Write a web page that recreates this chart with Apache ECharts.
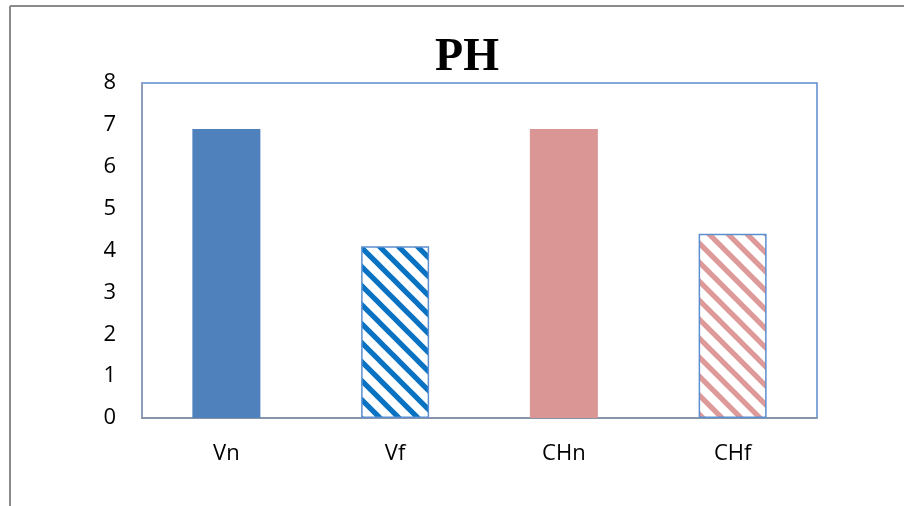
<!DOCTYPE html>
<html>
<head>
<meta charset="utf-8">
<script src="https://cdn.jsdelivr.net/npm/echarts@6/dist/echarts.min.js"></script>
<style>
  html, body { margin: 0; padding: 0; background: #ffffff; }
  #chart { width: 904px; height: 506px; }
</style>
</head>
<body>
<div id="chart"></div>
<script>
// pH readings per sample
const categories = ['Vn', 'Vf', 'CHn', 'CHf'];
const phValues = [6.9, 4.1, 6.9, 4.4];
const yTicks = { min: 0, max: 8, interval: 1 };

// Diagonal stripe tile ("\" direction) used for hatched bars
function stripeTile(stripeColor) {
  const s = 19;
  const c = document.createElement('canvas');
  c.width = s; c.height = s;
  const ctx = c.getContext('2d');
  ctx.fillStyle = '#ffffff';
  ctx.fillRect(0, 0, s, s);
  ctx.strokeStyle = stripeColor;
  ctx.lineWidth = 5.2;
  [-s, 0, s].forEach(function (off) {
    ctx.beginPath();
    ctx.moveTo(-2, off - 2);
    ctx.lineTo(s + 2, s + off + 2);
    ctx.stroke();
  });
  return { image: c, repeat: 'repeat' };
}

const barStyles = [
  { color: '#4f81bd' },
  { color: stripeTile('#0a72c2'), borderColor: '#5b8fd0', borderWidth: 1.5 },
  { color: '#d99694' },
  { color: stripeTile('#dd9a99'), borderColor: '#5b8fd0', borderWidth: 1.5 }
];

const chart = echarts.init(document.getElementById('chart'), null, { renderer: 'canvas' });

chart.setOption({
  animation: false,
  backgroundColor: '#ffffff',
  title: {
    text: 'PH',
    left: 462,
    textAlign: 'center',
    top: 30,
    textStyle: {
      fontFamily: 'Liberation Serif',
      fontWeight: 'bold',
      fontSize: 46,
      color: '#000000'
    }
  },
  graphic: [
    { type: 'line', shape: { x1: 10, y1: 6, x2: 904, y2: 6 }, style: { stroke: '#8a8a8a', lineWidth: 2 } },
    { type: 'line', shape: { x1: 10, y1: 6, x2: 10, y2: 506 }, style: { stroke: '#8a8a8a', lineWidth: 2 } }
  ],
  grid: {
    left: 142,
    right: 87,
    top: 83,
    bottom: 88,
    show: true,
    borderColor: '#5b8bd0',
    borderWidth: 1.5
  },
  xAxis: {
    type: 'category',
    data: categories,
    axisLine: { show: true, lineStyle: { color: '#8a8f99', width: 1.5 } },
    axisTick: { show: false },
    axisLabel: {
      margin: 25,
      fontFamily: 'Open Sans',
      fontSize: 22,
      color: '#000000'
    }
  },
  yAxis: {
    type: 'value',
    min: yTicks.min,
    max: yTicks.max,
    interval: yTicks.interval,
    axisLine: { show: true, lineStyle: { color: '#8f9bb0', width: 1.5 } },
    axisTick: { show: false },
    splitLine: { show: false },
    axisLabel: {
      margin: 26,
      fontFamily: 'Open Sans',
      fontSize: 22,
      color: '#000000'
    }
  },
  series: [{
    type: 'bar',
    barWidth: 68,
    data: phValues.map(function (v, i) {
      return { value: v, itemStyle: barStyles[i] };
    })
  }]
});
</script>
</body>
</html>
